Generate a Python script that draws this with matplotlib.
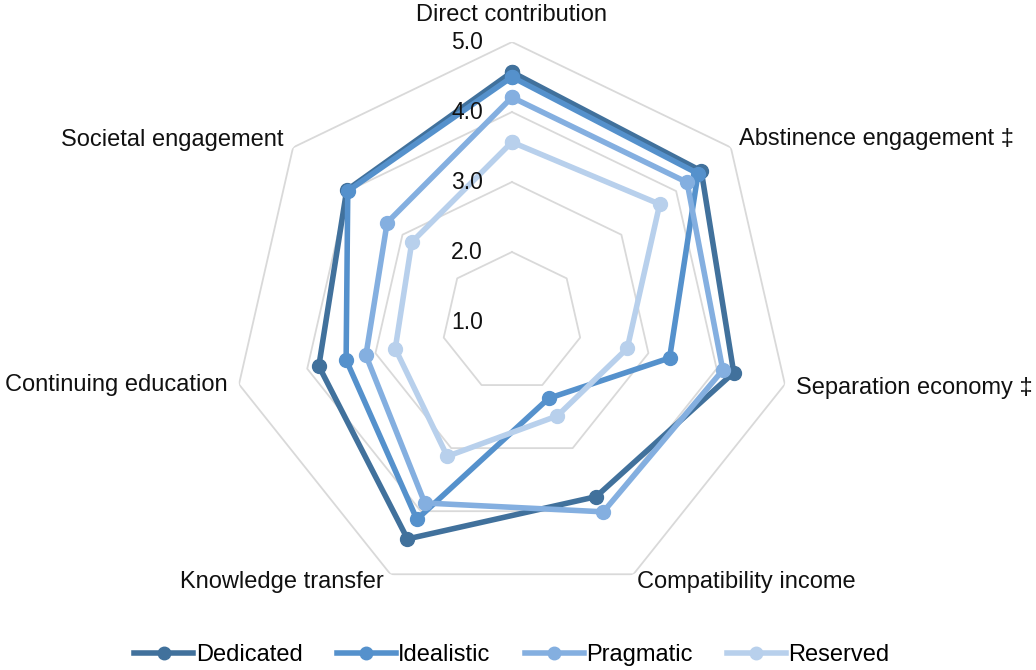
import numpy as np
import matplotlib.pyplot as plt

plt.rcParams['font.family'] = ['Liberation Sans', 'DejaVu Sans']

categories = ["Direct contribution", "Abstinence engagement \u2021", "Separation economy \u2021",
              "Compatibility income", "Knowledge transfer", "Continuing education",
              "Societal engagement"]
series_names = ["Dedicated", "Idealistic", "Pragmatic", "Reserved"]
dedicated  = [4.57, 4.46, 4.25, 3.77, 4.44, 3.83, 4.02]
idealistic = [4.50, 4.40, 3.31, 2.21, 4.13, 3.43, 4.00]
pragmatic  = [4.21, 4.20, 4.09, 4.01, 3.87, 3.14, 3.28]
reserved   = [3.57, 3.70, 2.69, 2.49, 3.13, 2.71, 2.83]
tick_values = [1.0, 2.0, 3.0, 4.0, 5.0]

colors = ['#41719c', '#5591cc', '#84afe0', '#b8d0ec']
# label offsets (pixels from outer vertex) + alignment
label_pos = [(0, 27, 'center'), (8, 8, 'left'), (11, -4, 'left'), (4, -8, 'left'),
             (-7, -8, 'right'), (-11, -1, 'right'), (-10, 7, 'right')]
fs = 17

fig = plt.figure(figsize=(10.36, 6.70), dpi=100)
ax = fig.add_axes([0.2239, 0.1015, 0.5405, 0.8358], projection='polar')
ax.set_theta_offset(np.pi / 2)
ax.set_theta_direction(-1)
ax.set_ylim(1, 5)
ax.grid(False)
ax.spines['polar'].set_visible(False)
ax.set_xticks([])
ax.set_yticks([])
ax.patch.set_alpha(0)

n = len(categories)
angles = np.linspace(0, 2 * np.pi, n, endpoint=False)
ang_c = np.append(angles, angles[0])

# heptagon gridlines
for lvl in tick_values[1:]:
    ax.plot(ang_c, [lvl] * (n + 1), color='#d9d9d9', lw=1.3, zorder=1)

for name, vals, c in zip(series_names, [dedicated, idealistic, pragmatic, reserved], colors):
    v = np.append(vals, vals[0])
    ax.plot(ang_c, v, color=c, lw=4, marker='o', ms=10, label=name, zorder=3,
            solid_joinstyle='round', clip_on=False)

for t in tick_values:
    ax.annotate(f"{t:.1f}", xy=(0, t), xytext=(-29, 0), textcoords='offset pixels',
                ha='right', va='center', fontsize=16.5, color='#111111', zorder=5)

for a, lab, (dx, dy, ha) in zip(angles, categories, label_pos):
    ax.annotate(lab, xy=(a, 5), xytext=(dx, dy), textcoords='offset pixels',
                ha=ha, va='center', fontsize=fs, color='#111111', annotation_clip=False)

fig.legend(loc='center', bbox_to_anchor=(0.494, 1 - 655 / 670), ncol=4, frameon=False,
           fontsize=fs, handlelength=2.5, handletextpad=0.1, columnspacing=1.45,
           markerscale=0.9)

fig.savefig('out.png', dpi=100)
